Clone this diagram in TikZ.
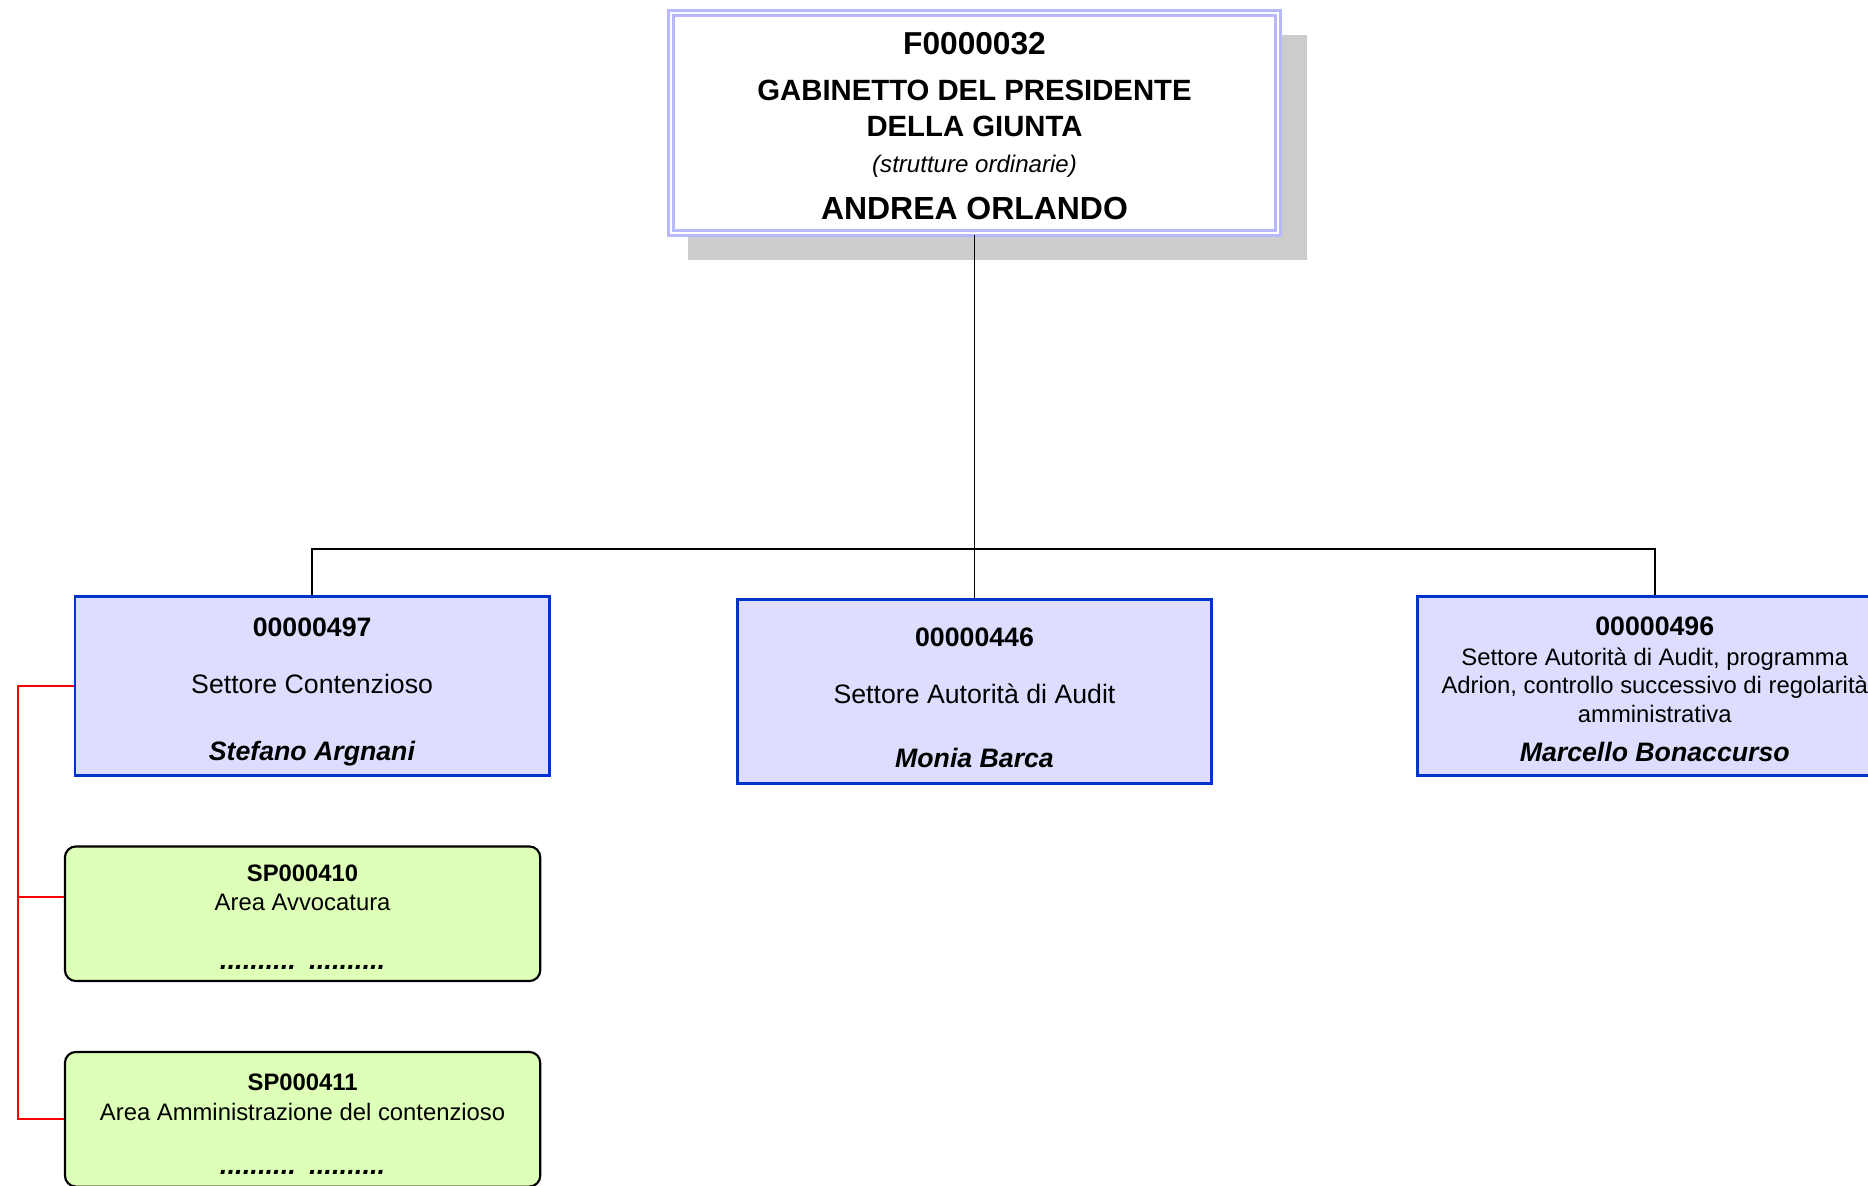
\documentclass[tikz,border=0pt]{standalone}
\usepackage{fontspec}
\setmainfont{Liberation Sans}
\usepackage{tikz}
\usetikzlibrary{shadows}

\definecolor{gabline}{RGB}{184,184,255}
\definecolor{gabshadow}{RGB}{204,204,204}
\definecolor{settorefill}{RGB}{221,221,255}
\definecolor{settoreline}{RGB}{0,51,204}
\definecolor{areafill}{RGB}{221,255,183}

\begin{document}
\begin{tikzpicture}[x=0.5pt,y=-0.5pt,
                gabinetto/.style={shape=rectangle,draw=gabline,double=white,line width=1.4pt,double distance=0.7pt,fill=white,inner sep=0pt,align=center,minimum width=254.75pt,minimum height=92.4pt,font=\fontsize{12.3}{15}\selectfont\bfseries,drop shadow={shadow xshift=9.4pt,shadow yshift=-10pt,shadow scale=1.02,fill=gabshadow,opacity=1}},
                settore/.style={shape=rectangle,draw=settoreline,line width=1.2pt,fill=settorefill,inner sep=0pt,align=center,minimum width=199pt,minimum height=75pt,font=\fontsize{11.2}{13}\selectfont},
                area/.style={shape=rectangle,draw=black,line width=0.9pt,rounded corners=4.6pt,fill=areafill,inner sep=0pt,align=center,minimum width=199.5pt,minimum height=56.5pt,font=\fontsize{10}{12}\selectfont},
                link/.style={draw=black,line width=0.75pt},
                sublink/.style={draw=red,line width=0.75pt}]
                \useasboundingbox (0,0) rectangle (1568,995);
                \clip (0,0) rectangle (1568,995);

                \node[gabinetto] (gabinetto) at (818,103.4) {\rule{0pt}{11.5pt}{\fontsize{13.3}{15}\selectfont F0000032}\\[4.6pt]
                    GABINETTO DEL PRESIDENTE\\
                    DELLA GIUNTA\\[0pt]
                    {\fontsize{10.1}{15}\selectfont\mdseries\itshape (strutture ordinarie)}\\[4.8pt]
                    {\fontsize{13.4}{15}\selectfont ANDREA ORLANDO}};

                \node[settore] (contenzioso) at (262,576) {\rule{0pt}{12.3pt}\textbf{00000497}\\[11pt]
                    Settore Contenzioso\\[15pt]
                    \textbf{\textit{Stefano Argnani}}};
                \node[settore,minimum height=77.5pt] (audit) at (818,580.5) {\rule{0pt}{13pt}\textbf{00000446}\\[11pt]
                    Settore Autorità di Audit\\[13.5pt]
                    \textbf{\textit{Monia Barca}}};
                \node[settore,font=\fontsize{11.2}{12}\selectfont] (adrion) at (1389,576) {\rule{0pt}{10.5pt}\textbf{00000496}\\[0.5pt]
                    {\fontsize{10}{12}\selectfont Settore Autorità di Audit, programma}\\
                    {\fontsize{10}{12}\selectfont Adrion, controllo successivo di regolarità}\\
                    {\fontsize{10}{12}\selectfont amministrativa}\\[4.5pt]
                    \textbf{\textit{Marcello Bonaccurso}}};

                \node[area] (avvocatura) at (254,767) {\rule{0pt}{10.2pt}\textbf{SP000410}\\
                    Area Avvocatura\\[13pt]
                    {\fontsize{11.5}{12}\selectfont\bfseries\itshape ..........\hspace{5.5pt}..........}};
                \node[area] (ammin) at (254,939.5) {\rule{0pt}{11.2pt}\textbf{SP000411}\\[0.5pt]
                    Area Amministrazione del contenzioso\\[10.5pt]
                    {\fontsize{11.5}{12}\selectfont\bfseries\itshape ..........\hspace{5.5pt}..........}};

                % collegamenti
                \coordinate (bus) at (818,461);
                \coordinate (rail) at (15,576);
                \draw[link] (gabinetto.south) -- (audit.north);
                \draw[link] (contenzioso.north) |- (bus) -| (adrion.north);
                \draw[sublink] (contenzioso.west) -- (rail) |- (ammin.west);
                \draw[sublink] (rail) |- (avvocatura.176);
            \end{tikzpicture}
\end{document}
